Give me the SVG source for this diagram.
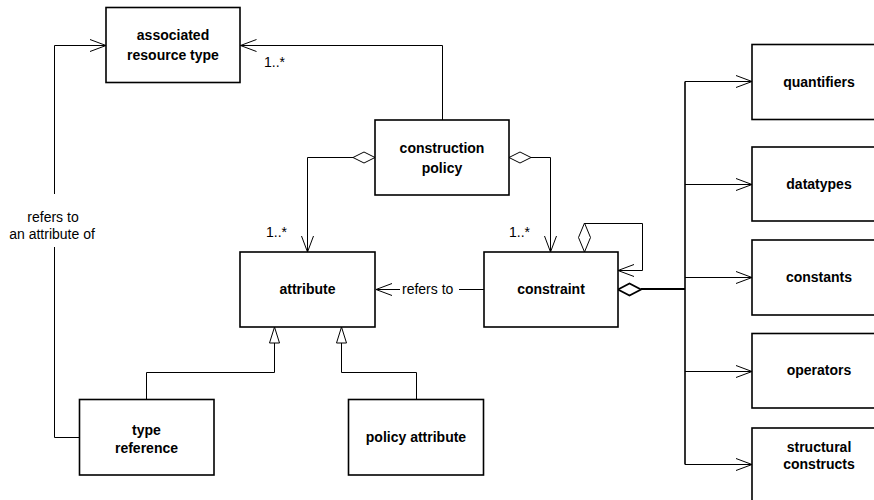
<svg xmlns="http://www.w3.org/2000/svg" width="874" height="500" viewBox="0 0 874 500">
<style>
.box{fill:#fff;stroke:#000;stroke-width:1.6}
.nt{font-family:"Liberation Sans",Arial,sans-serif;font-size:14px;font-weight:bold;text-anchor:middle;fill:#000}
.lb{font-family:"Liberation Sans",Arial,sans-serif;font-size:14px;fill:#000}
.c{fill:none;stroke:#000;stroke-width:1}
.ct{fill:none;stroke:#000;stroke-width:2}
.dia{fill:#fff;stroke:#000;stroke-width:1}
.diat{fill:#fff;stroke:#000;stroke-width:1.8}
.tri{fill:#fff;stroke:#000;stroke-width:1}
</style>
<defs>
<marker id="open" markerUnits="userSpaceOnUse" markerWidth="20" markerHeight="16" viewBox="-18 -8 20 16" refX="0" refY="0" orient="auto">
<path d="M-16,-6 L0,0 L-16,6" fill="none" stroke="#000" stroke-width="1"/>
</marker>
</defs>
<rect width="874" height="500" fill="#fff"/>
<g id="connectors">
<path class="c" d="M442.5,120 V45.5 H240.5" marker-end="url(#open)"/>
<path class="c" d="M79,437.5 H54.5 V247"/>
<path class="c" d="M54.5,194 V45.5 H106" marker-end="url(#open)"/>
<polygon class="dia" points="375,157.5 364,152 353,157.5 364,163"/>
<path class="c" d="M353,157.5 H307.5 V252" marker-end="url(#open)"/>
<polygon class="dia" points="509,157.5 520,152 531,157.5 520,163"/>
<path class="c" d="M531,157.5 H550.5 V252" marker-end="url(#open)"/>
<polygon class="dia" points="584.5,252 578.5,237.5 584.5,223 590.5,237.5"/>
<path class="c" d="M584.5,223.5 H642.5 V270.5 H618" marker-end="url(#open)"/>
<path class="c" d="M484,289.5 H459"/>
<path class="c" d="M400,289.5 H376" marker-end="url(#open)"/>
<polygon class="diat" points="618,289.5 629.5,283.5 641,289.5 629.5,295.5"/>
<path class="ct" d="M641,289 H685"/>
<path class="c" style="stroke-width:1.6" d="M685,81.5 V464.5"/>
<path class="c" d="M685,81.5 H752" marker-end="url(#open)"/>
<path class="c" d="M685,184.5 H752" marker-end="url(#open)"/>
<path class="c" d="M685,277.5 H752" marker-end="url(#open)"/>
<path class="c" d="M685,371.5 H752" marker-end="url(#open)"/>
<path class="c" d="M685,464.5 H752" marker-end="url(#open)"/>
<polygon class="tri" points="274.5,327 269.5,343 279.5,343"/>
<path class="c" d="M274.5,343 V372.5 H146.5 V399"/>
<polygon class="tri" points="341.5,327 336.5,343 346.5,343"/>
<path class="c" d="M341.5,343 V372.5 H416.5 V399"/>
<text class="lb" x="264" y="67">1..*</text>
<text class="lb" x="266" y="237">1..*</text>
<text class="lb" x="509" y="237">1..*</text>
<text class="lb" x="402" y="293.5">refers to</text>
<text class="lb" x="53" y="221.5" text-anchor="middle">refers to</text>
<text class="lb" x="52" y="238.5" text-anchor="middle">an attribute of</text>
</g>
<g id="associated-resource-type">
<rect class="box" x="106" y="7.5" width="134" height="75"/>
<text class="nt" x="173" y="40">associated</text>
<text class="nt" x="173" y="59.5">resource type</text>
</g>
<g id="construction-policy">
<rect class="box" x="375" y="120" width="134" height="75"/>
<text class="nt" x="442" y="153">construction</text>
<text class="nt" x="442" y="172.5">policy</text>
</g>
<g id="attribute">
<rect class="box" x="240" y="252" width="135" height="75"/>
<text class="nt" x="307.5" y="293.5">attribute</text>
</g>
<g id="constraint">
<rect class="box" x="484" y="252" width="134" height="75"/>
<text class="nt" x="551" y="293.5">constraint</text>
</g>
<g id="type-reference">
<rect class="box" x="79.5" y="399.5" width="134.5" height="75.5"/>
<text class="nt" x="146.5" y="435">type</text>
<text class="nt" x="146.5" y="452.5">reference</text>
</g>
<g id="policy-attribute">
<rect class="box" x="348.5" y="399.5" width="135" height="75.5"/>
<text class="nt" x="416" y="442">policy attribute</text>
</g>
<g id="quantifiers">
<rect class="box" x="752" y="44.5" width="134" height="75"/>
<text class="nt" x="819" y="86.5">quantifiers</text>
</g>
<g id="datatypes">
<rect class="box" x="752" y="147" width="134" height="74"/>
<text class="nt" x="819" y="188.5">datatypes</text>
</g>
<g id="constants">
<rect class="box" x="752" y="240" width="134" height="75"/>
<text class="nt" x="819" y="281.5">constants</text>
</g>
<g id="operators">
<rect class="box" x="752" y="333.5" width="134" height="74.5"/>
<text class="nt" x="819" y="375">operators</text>
</g>
<g id="structural-constructs">
<rect class="box" x="752" y="428" width="134" height="80"/>
<text class="nt" x="819" y="452">structural</text>
<text class="nt" x="819" y="469">constructs</text>
</g>
</svg>
